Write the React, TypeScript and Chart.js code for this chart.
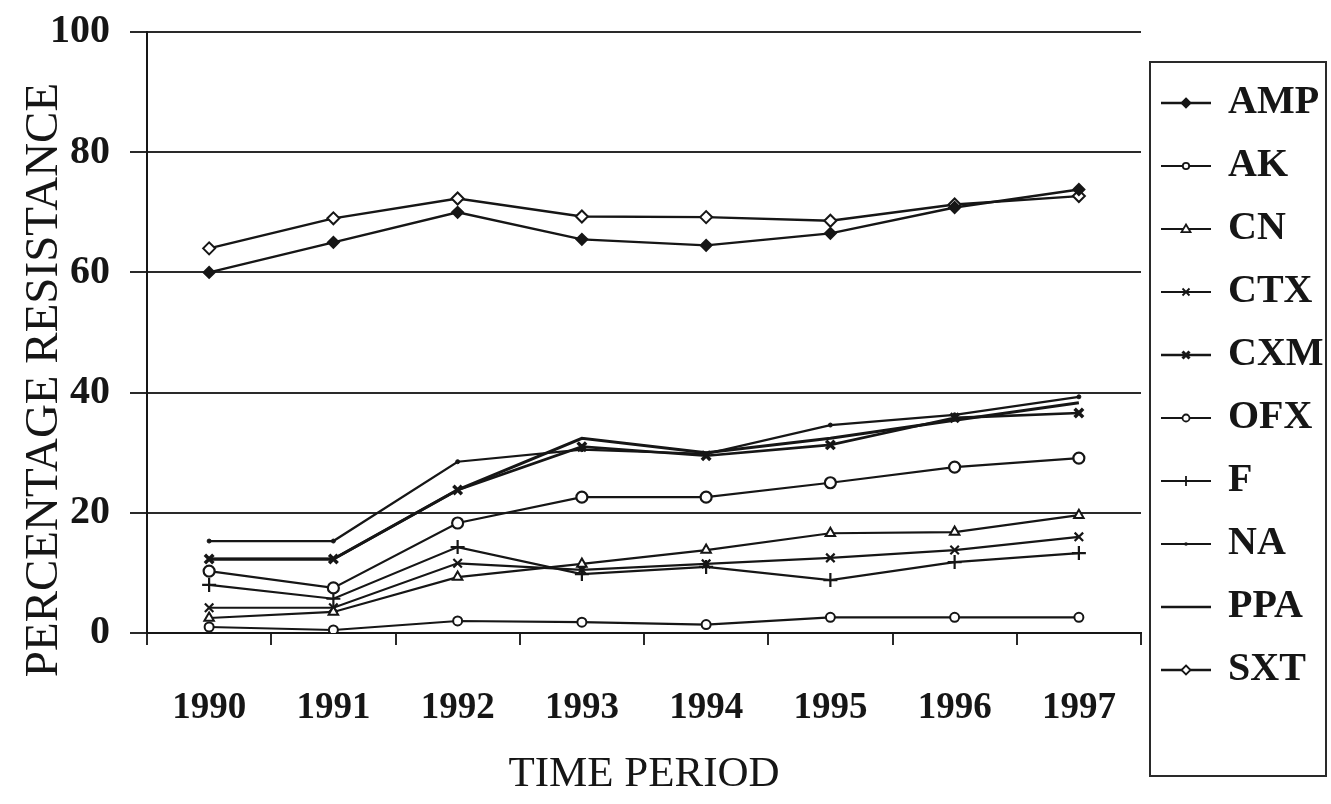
import React, { useEffect, useRef } from 'react';
import { Chart, registerables } from 'chart.js';

Chart.register(...registerables);

const years = ['1990', '1991', '1992', '1993', '1994', '1995', '1996', '1997'];
const seriesNames = ['AMP', 'AK', 'CN', 'CTX', 'CXM', 'OFX', 'F', 'NA', 'PPA', 'SXT'];

const AMP = [60, 65, 70, 65.5, 64.5, 66.5, 70.8, 73.8];
const AK = [1.0, 0.5, 2.0, 1.8, 1.4, 2.6, 2.6, 2.6];
const CN = [2.5, 3.5, 9.3, 11.5, 13.8, 16.6, 16.8, 19.6];
const CTX = [4.2, 4.2, 11.6, 10.5, 11.5, 12.5, 13.8, 16.0];
const CXM = [12.3, 12.3, 23.8, 31.0, 29.5, 31.3, 35.8, 36.6];
const OFX = [10.3, 7.5, 18.3, 22.6, 22.6, 25.0, 27.6, 29.1];
const F = [8.0, 5.7, 14.3, 9.8, 11.0, 8.8, 11.8, 13.3];
const NA = [15.3, 15.3, 28.5, 30.5, 29.8, 34.6, 36.3, 39.3];
const PPA = [12.3, 12.3, 23.8, 32.4, 30.0, 32.4, 35.4, 38.3];
const SXT = [64, 69, 72.3, 69.3, 69.2, 68.6, 71.3, 72.7];

const seriesValues = [AMP, AK, CN, CTX, CXM, OFX, F, NA, PPA, SXT];

const yMin = 0;
const yMax = 100;
const yStep = 20;

const SERIF = '"Liberation Serif", "Times New Roman", serif';
const INK = '#161616';
const GRID = '#2a2a2a';

type Marker = {
  style: string;
  radius: number;
  fill: string;
  border: number;
  legend: string;
  lineWidth: number;
};

const markers: Marker[] = [
  { style: 'rectRot', radius: 5.5, fill: INK, border: 2, legend: 'diamondFilled', lineWidth: 2.4 },
  { style: 'circle', radius: 4.5, fill: '#ffffff', border: 2, legend: 'circleSmall', lineWidth: 2.2 },
  { style: 'triangle', radius: 5.5, fill: '#ffffff', border: 2, legend: 'triangle', lineWidth: 2.2 },
  { style: 'crossRot', radius: 6, fill: INK, border: 2.2, legend: 'x', lineWidth: 2.2 },
  { style: 'crossRot', radius: 6, fill: INK, border: 3.5, legend: 'xBold', lineWidth: 2.6 },
  { style: 'circle', radius: 5.5, fill: '#ffffff', border: 2.2, legend: 'circle', lineWidth: 2.2 },
  { style: 'cross', radius: 7, fill: INK, border: 2.2, legend: 'plus', lineWidth: 2.2 },
  { style: 'circle', radius: 2, fill: INK, border: 1, legend: 'dot', lineWidth: 2.2 },
  { style: 'line', radius: 0, fill: INK, border: 2, legend: 'none', lineWidth: 3 },
  { style: 'rectRot', radius: 6, fill: '#ffffff', border: 2, legend: 'diamondOpen', lineWidth: 2.4 },
];

function makeLegendImage(kind: string, lineWidth: number): HTMLCanvasElement {
  const c = document.createElement('canvas');
  c.width = 56;
  c.height = 20;
  const g = c.getContext('2d') as CanvasRenderingContext2D;
  g.strokeStyle = INK;
  g.fillStyle = INK;
  g.lineWidth = Math.min(lineWidth, 2.6);
  g.beginPath();
  g.moveTo(3, 10);
  g.lineTo(53, 10);
  g.stroke();
  const cx = 28;
  const cy = 10;
  const r = 4.5;
  g.lineWidth = 1.8;
  g.beginPath();
  switch (kind) {
    case 'diamondFilled':
    case 'diamondOpen':
      g.moveTo(cx, cy - r);
      g.lineTo(cx + r, cy);
      g.lineTo(cx, cy + r);
      g.lineTo(cx - r, cy);
      g.closePath();
      g.fillStyle = kind === 'diamondFilled' ? INK : '#ffffff';
      g.fill();
      g.stroke();
      break;
    case 'circleSmall':
    case 'circle':
      g.arc(cx, cy, kind === 'circle' ? 3.5 : 3.2, 0, Math.PI * 2);
      g.fillStyle = '#ffffff';
      g.fill();
      g.stroke();
      break;
    case 'triangle':
      g.moveTo(cx, cy - r);
      g.lineTo(cx + r, cy + r * 0.7);
      g.lineTo(cx - r, cy + r * 0.7);
      g.closePath();
      g.fillStyle = '#ffffff';
      g.fill();
      g.stroke();
      break;
    case 'x':
    case 'xBold':
      g.lineWidth = kind === 'xBold' ? 3 : 1.8;
      g.moveTo(cx - 3.5, cy - 3.5);
      g.lineTo(cx + 3.5, cy + 3.5);
      g.moveTo(cx + 3.5, cy - 3.5);
      g.lineTo(cx - 3.5, cy + 3.5);
      g.stroke();
      break;
    case 'plus':
      g.moveTo(cx, cy - 5);
      g.lineTo(cx, cy + 5);
      g.stroke();
      break;
    case 'dot':
      g.arc(cx, cy, 1.8, 0, Math.PI * 2);
      g.fill();
      break;
    default:
      break;
  }
  return c;
}

const framePlugin = {
  id: 'legendFrameAndYTitle',
  afterDraw(chart: any) {
    const { ctx, legend, chartArea } = chart;
    ctx.save();
    ctx.strokeStyle = GRID;
    ctx.lineWidth = 2;
    if (legend) {
      const left = legend.left + 9;
      const top = 62;
      const right = chart.width - 5;
      const bottom = 776;
      ctx.strokeRect(left, top, right - left, bottom - top);
    }
    ctx.translate(57, chartArea.bottom - 253);
    ctx.rotate(-Math.PI / 2);
    ctx.font = `47px ${SERIF}`;
    ctx.textAlign = 'center';
    ctx.textBaseline = 'alphabetic';
    ctx.fillStyle = INK;
    ctx.fillText('PERCENTAGE RESISTANCE', 0, 0);
    ctx.restore();
  },
};

export default function App() {
  const canvasRef = useRef<HTMLCanvasElement | null>(null);

  useEffect(() => {
    const canvas = canvasRef.current;
    if (!canvas) return;
    const legendImgs = markers.map((m) => makeLegendImage(m.legend, m.lineWidth));

    const datasets = seriesNames.map((name, i) => {
      const m = markers[i];
      return {
        label: name,
        data: seriesValues[i],
        borderColor: INK,
        borderWidth: m.lineWidth,
        backgroundColor: m.fill,
        pointStyle: m.style as any,
        pointRadius: m.radius,
        pointBorderWidth: m.border,
        pointBorderColor: INK,
        pointBackgroundColor: m.fill,
        tension: 0,
        fill: false,
      };
    });

    const chart = new Chart(canvas, {
      type: 'line',
      data: { labels: years, datasets },
      options: {
        animation: false,
        responsive: true,
        maintainAspectRatio: false,
        events: [],
        layout: { padding: { left: 30, top: 8, right: 0, bottom: 0 } },
        plugins: {
          tooltip: { enabled: false },
          legend: {
            position: 'right',
            align: 'start',
            maxWidth: 190,
            title: { display: true, text: '', padding: { top: 20, bottom: 20 }, font: { size: 10 } },
            labels: {
              usePointStyle: true,
              pointStyleWidth: 44,
              padding: 23,
              color: INK,
              font: { family: SERIF, size: 40, weight: 'bold' },
              generateLabels: (ch: any) => {
                const items = (Chart.defaults.plugins.legend.labels as any).generateLabels(ch);
                return items.map((it: any, i: number) => ({ ...it, pointStyle: legendImgs[i], lineWidth: 0 }));
              },
            },
          },
        },
        scales: {
          x: {
            type: 'category',
            offset: true,
            grid: {
              display: true,
              drawOnChartArea: false,
              drawTicks: true,
              tickLength: 12,
              offset: true,
              color: GRID,
              lineWidth: 2,
            },
            border: { display: true, color: INK, width: 2 },
            ticks: {
              color: INK,
              font: { family: SERIF, size: 37, weight: 'bold' },
              padding: 41,
              maxRotation: 0,
              autoSkip: false,
            },
            title: {
              display: true,
              text: 'TIME PERIOD',
              color: INK,
              font: { family: SERIF, size: 43 },
              padding: { top: -22, bottom: 3 },
            },
          },
          y: {
            min: yMin,
            max: yMax,
            ticks: {
              stepSize: yStep,
              color: INK,
              font: { family: SERIF, size: 40, weight: 'bold', lineHeight: 0.6 },
              padding: 20,
            },
            grid: { color: GRID, lineWidth: 2, tickLength: 17, drawTicks: true },
            border: { display: true, color: INK, width: 2 },
          },
        },
      } as any,
      plugins: [framePlugin],
    });

    return () => {
      chart.destroy();
    };
  }, []);

  return (
    <div
      style={{
        position: 'absolute',
        left: 0,
        top: 0,
        width: 1331,
        height: 804,
        background: '#ffffff',
      }}
    >
      <canvas ref={canvasRef} />
    </div>
  );
}
